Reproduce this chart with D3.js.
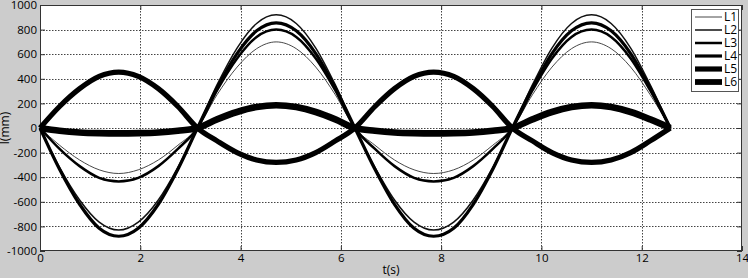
<!DOCTYPE html>
<html>
<head>
<meta charset="utf-8">
<title>l(mm) vs t(s)</title>
<script src="https://d3js.org/d3.v7.min.js"></script>
<style>
  html, body { margin: 0; padding: 0; background: #cccccc; }
  svg { display: block; }
  text { font-family: "Open Sans", sans-serif; fill: #000; }
</style>
</head>
<body>
<div id="chart"></div>
<script>
// Data (t in seconds, l in mm)
const tValues = [0, 0.39, 0.79, 1.18, 1.57, 1.96, 2.36, 2.75, 3.14, 3.53, 3.93, 4.32, 4.71, 5.11, 5.50, 5.89, 6.28,
  6.68, 7.07, 7.46, 7.85, 8.25, 8.64, 9.03, 9.42, 9.82, 10.21, 10.60, 11.00, 11.39, 11.78, 12.17, 12.57];

const L1 = [0, -140, -260, -340, -370, -340, -260, -140, 0, 270, 495, 645, 700, 645, 495, 270, 0,
  -140, -260, -340, -370, -340, -260, -140, 0, 270, 495, 645, 700, 645, 495, 270, 0];
const L2 = [0, -320, -585, -765, -830, -765, -585, -320, 0, 350, 650, 850, 920, 850, 650, 350, 0,
  -320, -585, -765, -830, -765, -585, -320, 0, 350, 650, 850, 920, 850, 650, 350, 0];
const L3 = [0, -170, -310, -405, -435, -405, -310, -170, 0, 305, 565, 740, 800, 740, 565, 305, 0,
  -170, -310, -405, -435, -405, -310, -170, 0, 305, 565, 740, 800, 740, 565, 305, 0];
const L4 = [0, -335, -620, -815, -880, -815, -620, -335, 0, 325, 605, 790, 855, 790, 605, 325, 0,
  -335, -620, -815, -880, -815, -620, -335, 0, 325, 605, 790, 855, 790, 605, 325, 0];
const L5 = [0, 175, 320, 420, 455, 420, 320, 175, 0, -105, -200, -260, -280, -260, -200, -105, 0,
  175, 320, 420, 455, 420, 320, 175, 0, -105, -200, -260, -280, -260, -200, -105, 0];
const L6 = [0, -22, -36, -42, -44, -42, -36, -22, 0, 70, 130, 170, 185, 170, 130, 70, 0,
  -22, -36, -42, -44, -42, -36, -22, 0, 70, 130, 170, 185, 170, 130, 70, 0];

const seriesNames = ["L1", "L2", "L3", "L4", "L5", "L6"];
const seriesValues = [L1, L2, L3, L4, L5, L6];
const xTicks = [0, 2, 4, 6, 8, 10, 12, 14];
const yTicks = [-1000, -800, -600, -400, -200, 0, 200, 400, 600, 800, 1000];

// Chart dimensions
const width = 748;
const height = 278;
const margin = { top: 5, right: 6, bottom: 27, left: 40 };
const innerWidth = width - margin.left - margin.right;
const innerHeight = height - margin.top - margin.bottom;

const widths = [0.9, 1.5, 2.5, 3.2, 5.2, 6.6];
const colors = ["#333", "#111", "#000", "#000", "#000", "#000"];

const svg = d3.select("#chart")
  .append("svg")
  .attr("width", width)
  .attr("height", height);

svg.append("rect")
  .attr("width", width)
  .attr("height", height)
  .attr("fill", "#cccccc");

const bounds = svg.append("g")
  .attr("transform", `translate(${margin.left},${margin.top})`);

// Scales
const x = d3.scaleLinear().domain([0, 14]).range([0, innerWidth]);
const y = d3.scaleLinear().domain([-1000, 1000]).range([innerHeight, 0]);

bounds.append("rect")
  .attr("width", innerWidth)
  .attr("height", innerHeight)
  .attr("fill", "#fff");

// Grid
bounds.append("g")
  .selectAll("line")
  .data(xTicks.slice(1, -1))
  .join("line")
  .attr("x1", d => Math.round(x(d)) + 0.5)
  .attr("x2", d => Math.round(x(d)) + 0.5)
  .attr("y1", 0)
  .attr("y2", innerHeight)
  .attr("stroke", "#444")
  .attr("stroke-dasharray", "1.5,1.5");

bounds.append("g")
  .selectAll("line")
  .data(yTicks.slice(1, -1))
  .join("line")
  .attr("x1", 0)
  .attr("x2", innerWidth)
  .attr("y1", d => Math.round(y(d)) + 0.5)
  .attr("y2", d => Math.round(y(d)) + 0.5)
  .attr("stroke", "#444")
  .attr("stroke-dasharray", "1.5,1.5");

// Axes
bounds.append("g")
  .attr("transform", `translate(0,${innerHeight})`)
  .call(d3.axisBottom(x).tickValues(xTicks).tickSizeInner(-5).tickSizeOuter(0).tickPadding(3).tickFormat(d => d));
bounds.append("g")
  .call(d3.axisLeft(y).tickValues(yTicks).tickSizeInner(-5).tickSizeOuter(0).tickPadding(3).tickFormat(d => d));
bounds.append("g")
  .attr("class", "mirror")
  .call(d3.axisTop(x).tickValues(xTicks).tickSizeInner(-5).tickSizeOuter(0));
bounds.append("g")
  .attr("class", "mirror")
  .attr("transform", `translate(${innerWidth},0)`)
  .call(d3.axisRight(y).tickValues(yTicks).tickSizeInner(-5).tickSizeOuter(0));

// top/right axes only keep their tick marks
bounds.selectAll(".mirror text").remove();
bounds.selectAll(".domain").remove();
bounds.selectAll(".tick line").attr("stroke", "#333");
bounds.selectAll(".tick text")
  .style("font-size", "11.5px")
  .style("font-family", "'Open Sans', sans-serif")
  .attr("fill", "#000");

bounds.append("rect")
  .attr("x", 0.5)
  .attr("y", 0.5)
  .attr("width", innerWidth - 1)
  .attr("height", innerHeight - 1)
  .attr("fill", "none")
  .attr("stroke", "#333");

// Lines
const line = d3.line()
  .curve(d3.curveMonotoneX)
  .x((d, i) => x(tValues[i]))
  .y(d => y(d));

bounds.selectAll(".series")
  .data(seriesValues)
  .join("path")
  .attr("class", "series")
  .attr("d", line)
  .attr("fill", "none")
  .attr("stroke", (d, i) => colors[i])
  .attr("stroke-width", (d, i) => widths[i])
  .attr("stroke-linejoin", "round");

// Axis labels
svg.append("text")
  .attr("x", margin.left + innerWidth / 2)
  .attr("y", 274)
  .attr("text-anchor", "middle")
  .style("font-size", "12px")
  .text("t(s)");

svg.append("text")
  .attr("transform", `translate(9,${margin.top + innerHeight / 2}) rotate(-90)`)
  .attr("text-anchor", "middle")
  .style("font-size", "12px")
  .text("l(mm)");

// Legend
const legend = svg.append("g")
  .attr("transform", "translate(691,9)");

legend.append("rect")
  .attr("x", 0.5)
  .attr("y", 0.5)
  .attr("width", 47)
  .attr("height", 82)
  .attr("fill", "#fff")
  .attr("stroke", "#555");

const rows = legend.selectAll(".row")
  .data(seriesNames)
  .join("g")
  .attr("class", "row")
  .attr("transform", (d, i) => `translate(0,${8 + i * 13})`);

rows.append("line")
  .attr("x1", 4)
  .attr("x2", 31)
  .attr("stroke", (d, i) => colors[i])
  .attr("stroke-width", (d, i) => Math.min(widths[i], 5.8));

rows.append("text")
  .attr("x", 33)
  .attr("dy", "0.35em")
  .style("font-size", "12px")
  .text(d => d);
</script>
</body>
</html>
